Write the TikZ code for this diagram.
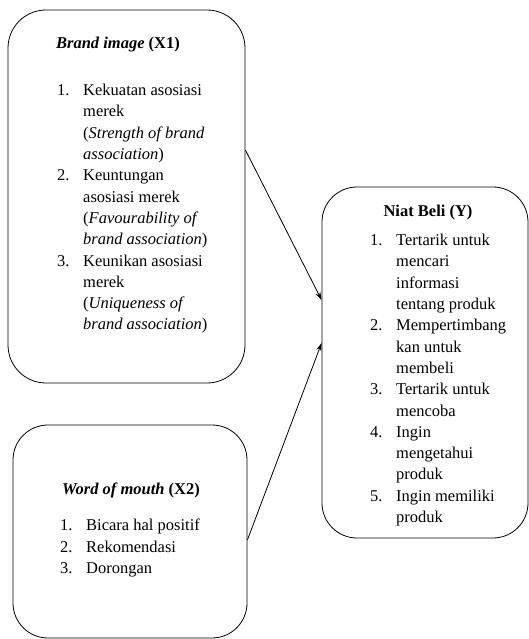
\documentclass[tikz,border=0pt]{standalone}
\usepackage{fontspec}
\setmainfont{Liberation Serif}
\usetikzlibrary{arrows.meta}

\newcommand{\num}[1]{\makebox[26pt][l]{#1}}
\newcommand{\ind}{\hspace*{26pt}}

\tikzset{
  varbox/.style={draw, line width=0.8pt, rounded corners=38pt, inner sep=0pt},
  itemlist/.style={anchor=north west, align=left, inner sep=0pt,
    font=\fontsize{16.5}{21.3}\selectfont},
  heading/.style={inner sep=0pt, font=\fontsize{16.5}{19}\selectfont},
  link/.style={line width=0.8pt, -{Stealth[length=8pt,width=5pt]}}
}

\begin{document}
\begin{tikzpicture}[x=1pt,y=-1pt]
    \useasboundingbox (0,0) rectangle (529,639);

    % Brand image box
    \node[varbox, minimum width=237pt, minimum height=373pt] (bi) at (126.5,196.5) {};
    \node[heading] (bititle) at (118,45) {\textbf{\textit{Brand image}} \textbf{(X1)}};
    \node[itemlist] (bilist) at (57,84) {%
      \num{1.}Kekuatan asosiasi\\
      \ind merek\\
      \ind(\textit{Strength of brand}\\
      \ind\textit{association})\\
      \num{2.}Keuntungan\\
      \ind asosiasi merek\\
      \ind(\textit{Favourability of}\\
      \ind\textit{brand association})\\
      \num{3.}Keunikan asosiasi\\
      \ind merek\\
      \ind(\textit{Uniqueness of}\\
      \ind\textit{brand association})};

    % Word of mouth box
    \node[varbox, rounded corners=35pt, minimum width=234pt, minimum height=213pt] (wom) at (130,531.5) {};
    \node[heading] (womtitle) at (131,490) {\textbf{\textit{Word of mouth}} \textbf{(X2)}};
    \node[itemlist] (womlist) at (60,519) {%
      \num{1.}Bicara hal positif\\
      \num{2.}Rekomendasi\\
      \num{3.}Dorongan};

    % Niat beli box
    \node[varbox, rounded corners=35pt, minimum width=206pt, minimum height=351pt] (nb) at (425,362.5) {};
    \node[heading] (nbtitle) at (428,213) {\textbf{Niat Beli (Y)}};
    \node[itemlist] (nblist) at (370,234) {%
      \num{1.}Tertarik untuk\\
      \ind mencari\\
      \ind informasi\\
      \ind tentang produk\\
      \num{2.}Mempertimbang\\
      \ind kan untuk\\
      \ind membeli\\
      \num{3.}Tertarik untuk\\
      \ind mencoba\\
      \num{4.}Ingin\\
      \ind mengetahui\\
      \ind produk\\
      \num{5.}Ingin memiliki\\
      \ind produk};

    % Links
    \draw[link] ([yshift=46.5pt]bi.east) -- ([yshift=62.5pt]nb.west);
    \draw[link] ([yshift=-8.5pt]wom.east) -- ([yshift=19.5pt]nb.west);
\end{tikzpicture}
\end{document}
